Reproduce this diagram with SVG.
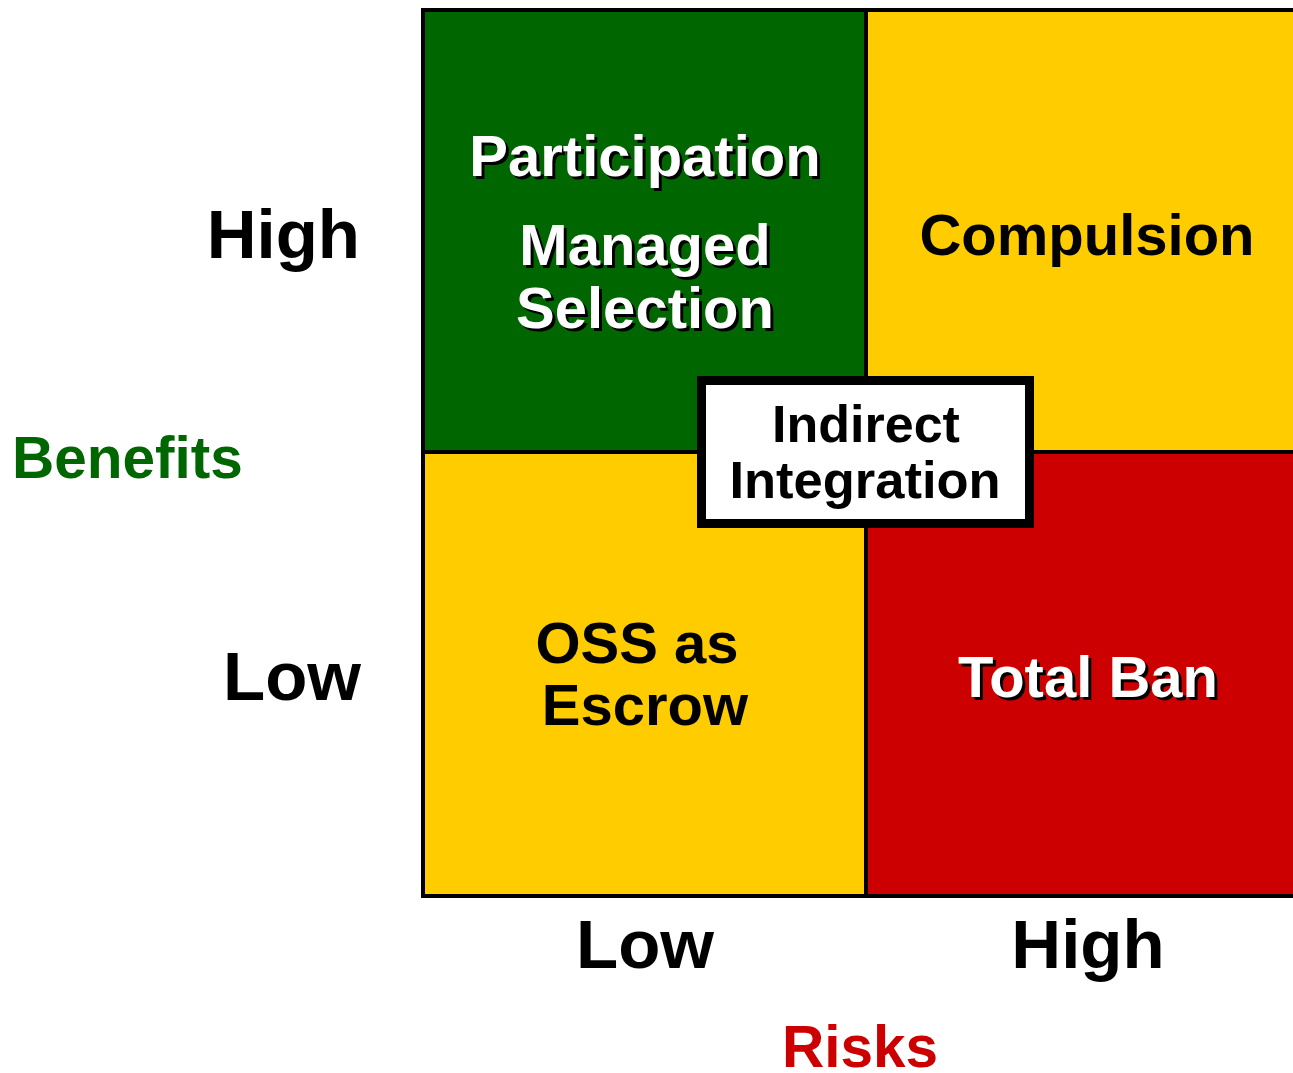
<svg xmlns="http://www.w3.org/2000/svg" width="1293" height="1073" viewBox="0 0 1293 1073">
<style>
text{font-family:"Liberation Sans",Arial,sans-serif;font-weight:bold;}
.q{font-size:58px;text-anchor:middle;}
.ax{font-size:69px;fill:#000;}
.lbl{font-size:58.5px;}
.sh{fill:#000;}
.wh{fill:#fff;}
.bk{fill:#000;}
.cell{stroke:#000;stroke-width:4;}
</style>
<rect width="1293" height="1073" fill="#fff"/>
<g id="axis-labels">
<text class="ax" x="360" y="258" text-anchor="end">High</text>
<text class="ax" x="361" y="700" text-anchor="end">Low</text>
<text class="ax" x="645" y="968" text-anchor="middle">Low</text>
<text class="ax" x="1088" y="968" text-anchor="middle">High</text>
<text class="lbl" x="12" y="478" fill="#006600">Benefits</text>
<text class="lbl" x="860" y="1067" fill="#CC0000" text-anchor="middle">Risks</text>
</g>
<g id="q-participation">
<rect class="cell" x="423" y="10" width="443" height="442" fill="#006600"/>
<text class="q sh" x="648" y="179">Participation</text>
<text class="q wh" x="645" y="176">Participation</text>
<text class="q sh" x="648" y="268">Managed</text>
<text class="q wh" x="645" y="265">Managed</text>
<text class="q sh" x="648" y="331">Selection</text>
<text class="q wh" x="645" y="328">Selection</text>
</g>
<g id="q-compulsion">
<rect class="cell" x="866" y="10" width="440" height="442" fill="#FFCC00"/>
<text class="q bk" x="1087" y="255">Compulsion</text>
</g>
<g id="q-oss">
<rect class="cell" x="423" y="452" width="443" height="444" fill="#FFCC00"/>
<text class="q bk" x="637" y="663">OSS as</text>
<text class="q bk" x="645" y="725">Escrow</text>
</g>
<g id="q-totalban">
<rect class="cell" x="866" y="452" width="440" height="444" fill="#CC0000"/>
<text class="q sh" x="1091" y="700">Total Ban</text>
<text class="q wh" x="1088" y="697">Total Ban</text>
</g>
<g id="indirect-integration">
<rect x="701.5" y="380.5" width="328" height="143" fill="#fff" stroke="#000" stroke-width="9"/>
<text x="866" y="442" font-size="52" text-anchor="middle" fill="#000">Indirect</text>
<text x="865" y="498" font-size="52.5" text-anchor="middle" fill="#000">Integration</text>
</g>
<g id="connectors"></g>
</svg>
